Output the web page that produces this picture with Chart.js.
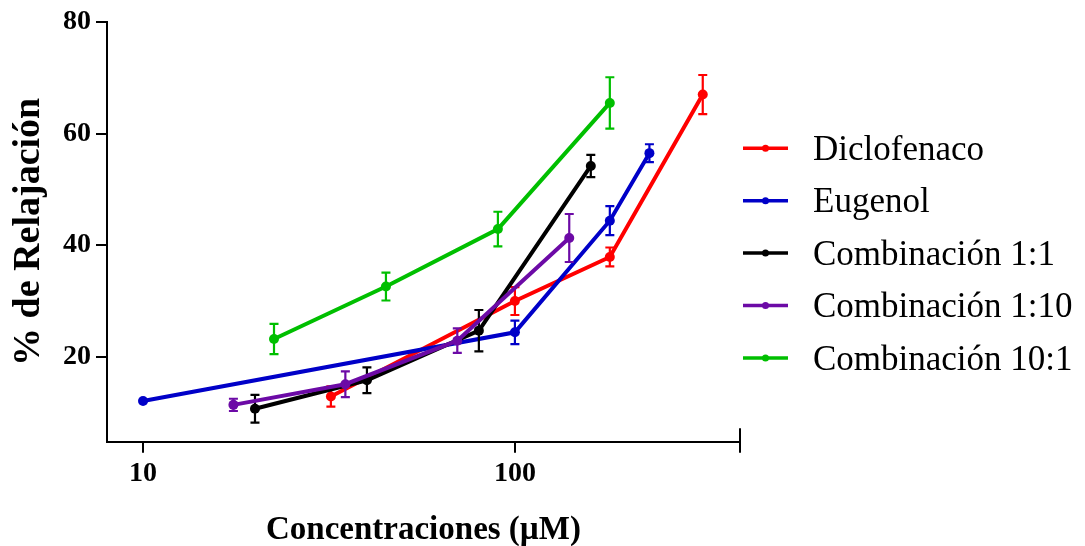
<!DOCTYPE html>
<html lang="es">
<head>
<meta charset="utf-8">
<title>Relajación vs concentración</title>
<script src="https://cdn.jsdelivr.net/npm/chart.js@4.4.1/dist/chart.umd.min.js"></script>
<style>
    html, body { margin: 0; padding: 0; background: #fff; }
    #wrap { width: 1085px; height: 546px; }
</style>
</head>
<body>
<div id="wrap"><canvas id="relajacionChart" width="1085" height="546"></canvas></div>
<script>
// Concentraciones (µM), % de relajación y error estándar de cada serie
const concDiclofenaco = [32, 100, 180, 320];
const relDiclofenaco = [12.9, 30.0, 37.9, 67.0];
const semDiclofenaco = [1.8, 2.5, 1.7, 3.5];

const concEugenol = [10, 100, 180, 230];
const relEugenol = [12.1, 24.4, 44.4, 56.5];
const semEugenol = [0, 2.1, 2.6, 1.6];

const concComb11 = [20, 40, 80, 160];
const relComb11 = [10.7, 15.8, 24.7, 54.2];
const semComb11 = [2.5, 2.3, 3.7, 2.0];

const concComb110 = [17.5, 35, 70, 140];
const relComb110 = [11.4, 15.1, 22.9, 41.3];
const semComb110 = [1.1, 2.3, 2.2, 4.3];

const concComb101 = [22.5, 45, 90, 180];
const relComb101 = [23.2, 32.6, 42.9, 65.5];
const semComb101 = [2.7, 2.5, 3.1, 4.6];

const nombres = ['Diclofenaco', 'Eugenol', 'Combinación 1:1', 'Combinación 1:10', 'Combinación 10:1'];
const colores = ['#ff0000', '#0000c8', '#000000', '#6c0aa6', '#00bf00'];

// Ejes
const xTicks = [10, 100];
const xMin = 8, xMax = 403;
const yTicks = [20, 40, 60, 80];
const yMin = 4.8, yMax = 80;

const FUENTE = "'Liberation Serif', 'Times New Roman', serif";

function puntos(conc, rel) {
    return conc.map((c, i) => ({ x: c, y: rel[i] }));
}

const series = [
    [concDiclofenaco, relDiclofenaco, semDiclofenaco],
    [concEugenol, relEugenol, semEugenol],
    [concComb11, relComb11, semComb11],
    [concComb110, relComb110, semComb110],
    [concComb101, relComb101, semComb101]
];

const datasets = series.map((s, i) => ({
    label: nombres[i],
    data: puntos(s[0], s[1]),
    errores: s[2],
    borderColor: colores[i],
    backgroundColor: colores[i],
    borderWidth: 4,
    pointRadius: 5,
    pointBorderWidth: 0,
    tension: 0,
    order: series.length - i // las últimas series quedan encima
}));

// Barras de error (SEM) dibujadas con las escalas del gráfico
const barrasError = {
    id: 'barrasError',
    afterDatasetDraw(chart, args) {
        const ds = chart.data.datasets[args.index];
        const y = chart.scales.y;
        const ctx = chart.ctx;
        ctx.save();
        ctx.strokeStyle = ds.borderColor;
        ctx.lineWidth = 2.2;
        args.meta.data.forEach((pt, j) => {
            const e = ds.errores[j];
            if (!e) return;
            const v = ds.data[j].y;
            const yTop = y.getPixelForValue(v + e);
            const yBot = y.getPixelForValue(v - e);
            ctx.beginPath();
            ctx.moveTo(pt.x, yTop);
            ctx.lineTo(pt.x, yBot);
            ctx.moveTo(pt.x - 4.5, yTop);
            ctx.lineTo(pt.x + 4.5, yTop);
            ctx.moveTo(pt.x - 4.5, yBot);
            ctx.lineTo(pt.x + 4.5, yBot);
            ctx.stroke();
        });
        ctx.restore();
    }
};

// Leyenda a la derecha con muestra de línea y punto
const leyenda = {
    id: 'leyenda',
    afterDraw(chart) {
        const ctx = chart.ctx;
        const x0 = chart.chartArea.right + 3;
        ctx.save();
        ctx.font = '35px ' + FUENTE;
        ctx.textBaseline = 'alphabetic';
        chart.data.datasets.forEach((ds, i) => {
            const yc = 148.3 + i * 52.4;
            ctx.strokeStyle = ds.borderColor;
            ctx.fillStyle = ds.borderColor;
            ctx.lineWidth = 3.5;
            ctx.beginPath();
            ctx.moveTo(x0, yc);
            ctx.lineTo(x0 + 45, yc);
            ctx.stroke();
            ctx.beginPath();
            ctx.arc(x0 + 22.5, yc, 3.5, 0, Math.PI * 2);
            ctx.fill();
            ctx.fillStyle = '#000';
            ctx.fillText(ds.label, x0 + 70, yc + 11.7);
        });

        // marca final del eje X
        const xs = chart.scales.x;
        const xe = xs.getPixelForValue(xMax);
        ctx.strokeStyle = '#000';
        ctx.lineWidth = 2;
        ctx.beginPath();
        ctx.moveTo(xe, xs.top - 13.5);
        ctx.lineTo(xe, xs.top);
        ctx.stroke();
        ctx.restore();
    }
};

const ctx = document.getElementById('relajacionChart').getContext('2d');
new Chart(ctx, {
    type: 'line',
    data: { datasets: datasets },
    plugins: [barrasError, leyenda],
    options: {
        responsive: false,
        animation: false,
        devicePixelRatio: 1,
        layout: { padding: { top: 22, right: 345, bottom: 0, left: 0 } },
        plugins: {
            legend: { display: false },
            tooltip: { enabled: false }
        },
        scales: {
            x: {
                type: 'logarithmic',
                min: xMin,
                max: xMax,
                afterBuildTicks: scale => {
                    scale.ticks = xTicks.concat([xMax]).map(v => ({ value: v }));
                },
                afterFit: scale => { scale.height = 104.3; },
                grid: {
                    display: true,
                    drawOnChartArea: false,
                    drawTicks: true,
                    tickLength: 11,
                    color: '#000',
                    lineWidth: 2
                },
                border: { display: true, color: '#000', width: 2 },
                ticks: {
                    autoSkip: false,
                    maxRotation: 0,
                    padding: 4,
                    color: '#000',
                    font: { family: FUENTE, size: 28, weight: 'bold' },
                    callback: v => (xTicks.includes(v) ? String(v) : '')
                },
                title: {
                    display: true,
                    text: 'Concentraciones (µM)',
                    color: '#000',
                    padding: { top: 0, bottom: -4 },
                    font: { family: FUENTE, size: 33, weight: 'bold' }
                }
            },
            y: {
                min: yMin,
                max: yMax,
                afterBuildTicks: scale => {
                    scale.ticks = yTicks.map(v => ({ value: v }));
                },
                afterFit: scale => { scale.width = 107; },
                grid: {
                    display: true,
                    drawOnChartArea: false,
                    drawTicks: true,
                    tickLength: 11,
                    color: '#000',
                    lineWidth: 2
                },
                border: { display: true, color: '#000', width: 2 },
                ticks: {
                    padding: 5,
                    color: '#000',
                    font: { family: FUENTE, size: 28, weight: 'bold' }
                },
                title: {
                    display: true,
                    text: '% de Relajación',
                    color: '#000',
                    padding: { top: 6, bottom: 0 },
                    font: { family: FUENTE, size: 38, weight: 'bold' }
                }
            }
        }
    }
});
</script>
</body>
</html>
